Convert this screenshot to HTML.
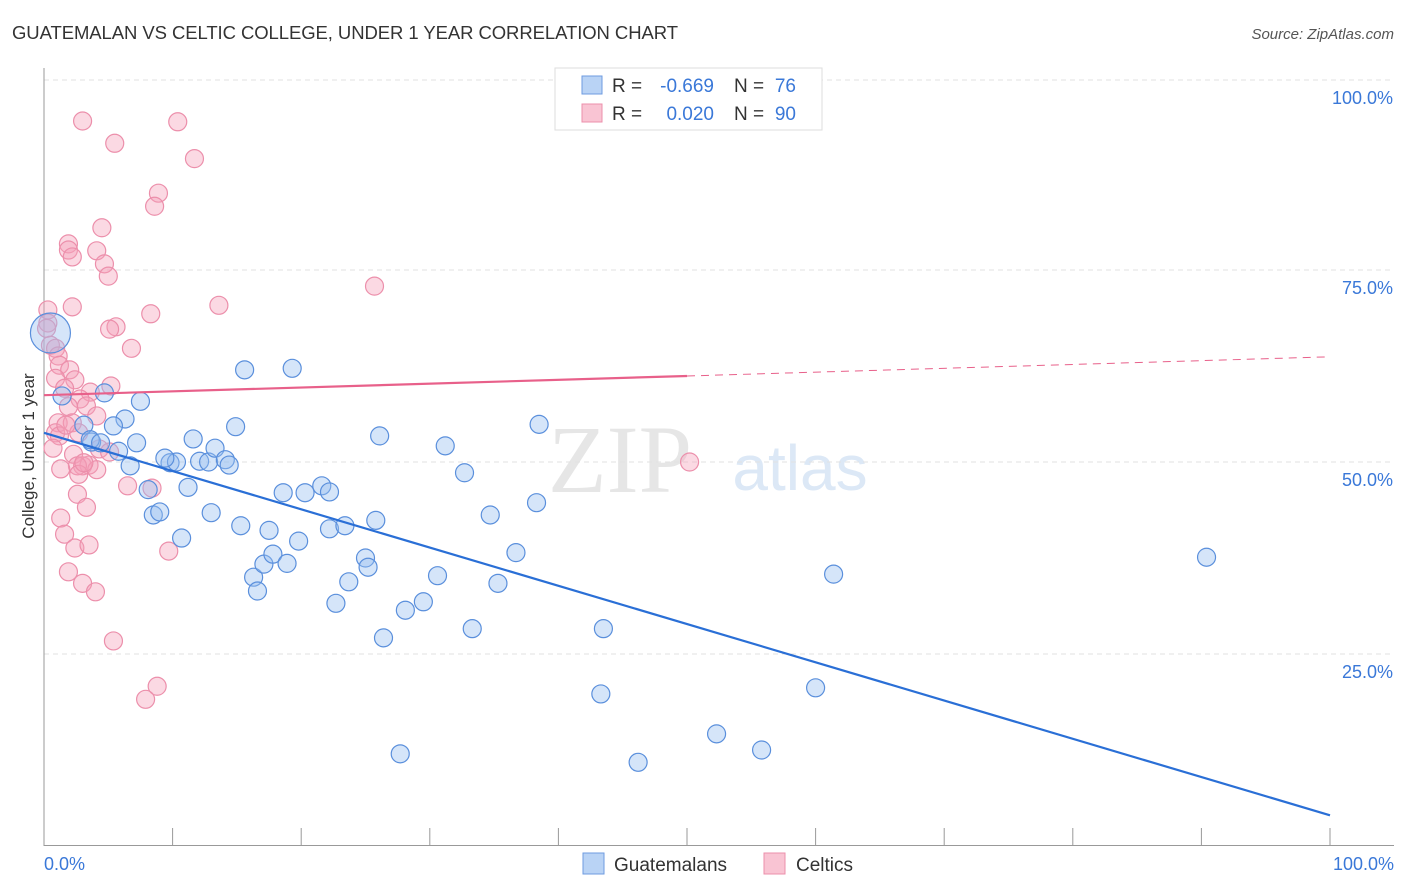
<!DOCTYPE html>
<html><head><meta charset="utf-8"><style>
body{margin:0;background:#fff;font-family:"Liberation Sans",sans-serif}
svg{display:block}
</style></head><body>
<svg id="chart" width="1406" height="892">
<text x="12" y="39" font-size="18.5" fill="#333" textLength="666">GUATEMALAN VS CELTIC COLLEGE, UNDER 1 YEAR CORRELATION CHART</text>
<text x="1394" y="39" font-size="15" fill="#555" font-style="italic" text-anchor="end">Source: ZipAtlas.com</text>
<text x="620" y="492" font-size="96" fill="#e6e6e6" font-family="Liberation Serif,serif" text-anchor="middle">ZIP</text>
<text x="800" y="490" font-size="64" fill="#dce8f6" text-anchor="middle">atlas</text>
<g id="grid"></g><g id="axes"></g><g id="pts"></g><g id="lines"></g>
<text transform="translate(34,456) rotate(-90)" font-size="17" fill="#333" text-anchor="middle">College, Under 1 year</text>
<g>
<rect x="555" y="68" width="267" height="62" fill="#fff" stroke="#ddd"/>
<rect x="582" y="76" width="20" height="18" fill="#b9d3f5" stroke="#6e9be0"/>
<rect x="582" y="104" width="20" height="18" fill="#f9c4d3" stroke="#ec8fab"/>
<text x="612" y="92" font-size="19" fill="#333">R =</text>
<text x="714" y="92" font-size="19" fill="#3a78d8" text-anchor="end">-0.669</text>
<text x="734" y="92" font-size="19" fill="#333">N =</text>
<text x="796" y="92" font-size="19" fill="#3a78d8" text-anchor="end">76</text>
<text x="612" y="120" font-size="19" fill="#333">R =</text>
<text x="714" y="120" font-size="19" fill="#3a78d8" text-anchor="end">0.020</text>
<text x="734" y="120" font-size="19" fill="#333">N =</text>
<text x="796" y="120" font-size="19" fill="#3a78d8" text-anchor="end">90</text>
</g>
<g>
<rect x="583" y="853" width="21" height="21" fill="#b9d3f5" stroke="#6e9be0"/>
<text x="614" y="871" font-size="19" fill="#333">Guatemalans</text>
<rect x="764" y="853" width="21" height="21" fill="#f9c4d3" stroke="#ec8fab"/>
<text x="796" y="871" font-size="19" fill="#333">Celtics</text>
</g>
</svg>
<script>
const blueX=[0.5,7.5,4.7,1.4,6.3,5.4,3.7,3.1,3.6,4.4,5.8,7.2,6.7,8.1,8.5,9.0,9.8,10.3,9.4,11.2,10.7,11.6,12.1,12.8,13.3,14.1,14.4,14.9,13.0,15.6,15.3,16.3,16.6,17.1,17.5,17.8,18.9,18.6,19.8,20.3,19.3,21.6,22.2,22.2,23.4,22.7,23.7,25.0,25.2,25.8,26.1,26.4,27.7,28.1,29.5,30.6,31.2,32.7,33.3,34.7,35.3,36.7,38.3,38.5,43.3,43.5,52.3,46.2,55.8,60.0,61.4,90.4];
const blueY=[66.8,57.9,59.0,58.6,55.6,54.7,52.6,54.8,52.9,52.5,51.4,52.5,49.5,46.4,43.1,43.5,49.9,50.0,50.5,46.7,40.1,53.0,50.1,50.0,51.8,50.3,49.6,54.6,43.4,62.0,41.7,35.0,33.2,36.7,41.1,38.0,36.8,46.0,39.7,46.0,62.2,46.9,46.1,41.3,41.7,31.6,34.4,37.5,36.3,42.4,53.4,27.1,12.0,30.7,31.8,35.2,52.1,48.6,28.3,43.1,34.2,38.2,44.7,54.9,19.8,28.3,14.6,10.9,12.5,20.6,35.4,37.6];
const pinkX=[3.0,5.5,10.4,11.7,8.9,8.6,4.5,1.9,1.9,2.2,4.1,4.7,5.0,25.7,13.6,2.2,0.3,8.3,5.6,5.1,0.3,0.2,6.8,0.5,0.9,1.1,1.2,2.0,2.4,0.9,5.2,1.6,3.6,2.8,1.9,3.3,4.1,1.1,2.2,0.9,1.2,2.7,4.3,5.1,2.3,3.0,3.5,2.6,1.3,2.7,4.1,6.5,8.4,2.6,3.3,1.3,1.6,2.4,3.5,9.7,1.9,3.0,4.0,5.4,8.8,7.9,50.2,0.7,3.1,1.7];
const pinkY=[94.4,91.5,94.3,89.5,85.0,83.3,80.5,78.4,77.6,76.7,77.5,75.8,74.2,72.9,70.4,70.2,69.8,69.3,67.6,67.3,68.1,67.4,64.8,65.2,64.8,63.8,62.6,62.0,60.7,60.9,59.9,59.6,59.1,58.2,57.2,57.3,56.0,55.1,55.1,53.8,53.4,53.8,51.7,51.3,51.0,49.5,49.6,49.5,49.1,48.4,49.0,46.9,46.6,45.8,44.1,42.7,40.6,38.8,39.2,38.4,35.7,34.2,33.1,26.7,20.8,19.1,50.0,51.8,49.9,54.8];
const blueFit=[53.8,4.0];
const pinkFit=[58.7,63.7];
const yTicks=[25,50,75,100];
const xTicks=[0,10,20,30,40,50,60,70,80,90,100];
const NS='http://www.w3.org/2000/svg';
const sx=v=>44+v*12.86, sy=v=>846-v*7.68;
function mk(tag,attrs,parent){const e=document.createElementNS(NS,tag);for(const k in attrs)e.setAttribute(k,attrs[k]);document.getElementById(parent).appendChild(e);return e;}
yTicks.forEach(t=>{
  const gy=sy(t)+(t==100?2:0);
  const g=mk('line',{x1:44,x2:1394,y1:gy,y2:gy,stroke:'#e2e2e2','stroke-dasharray':'5,4'},'grid');
  
  
  const l=mk('text',{x:1393,y:gy+24,'font-size':18,fill:'#3a78d8','text-anchor':'end'},'grid');
  l.textContent=t.toFixed(1)+'%';
  
  
});
mk('line',{x1:44,x2:44,y1:68,y2:846,stroke:'#999'},'axes');
mk('line',{x1:44,x2:1394,y1:845.5,y2:845.5,stroke:'#999'},'axes');
xTicks.forEach(t=>{
  const tk=mk('line',{x1:sx(t),x2:sx(t),y1:828,y2:846,stroke:'#999'},'axes');
  
  
});
[[0,'start',44],[100,'end',1394]].forEach(([v,a,x])=>{
  const l=mk('text',{x:x,y:870,'font-size':18,fill:'#3a78d8','text-anchor':a},'axes');
  l.textContent=v.toFixed(1)+'%';
  
  
});
pinkX.forEach((x,i)=>{
  const c=mk('circle',{cx:sx(x),cy:sy(pinkY[i]),r:9,fill:'rgba(244,160,185,0.4)',stroke:'#ec8fab','stroke-width':1.2},'pts');
  
  
});
blueX.forEach((x,i)=>{
  const c=mk('circle',{cx:sx(x),cy:sy(blueY[i]),r:i==0?20:9,fill:'rgba(150,190,240,0.4)',stroke:'#5a8fdc','stroke-width':1.2},'pts');
  
  
});
const bl=mk('line',{x1:sx(0),y1:sy(blueFit[0]),x2:sx(100),y2:sy(blueFit[1]),stroke:'#2a6fd6','stroke-width':2.2},'lines');


const pm=pinkFit[0]+(pinkFit[1]-pinkFit[0])*0.5;
const pl=mk('line',{x1:sx(0),y1:sy(pinkFit[0]),x2:sx(50),y2:sy(pm),stroke:'#e8608a','stroke-width':2.2},'lines');


const pd=mk('line',{x1:sx(50),y1:sy(pm),x2:sx(100),y2:sy(pinkFit[1]),stroke:'#e8608a','stroke-width':1,'stroke-dasharray':'8,6'},'lines');


</script>
</body></html>
